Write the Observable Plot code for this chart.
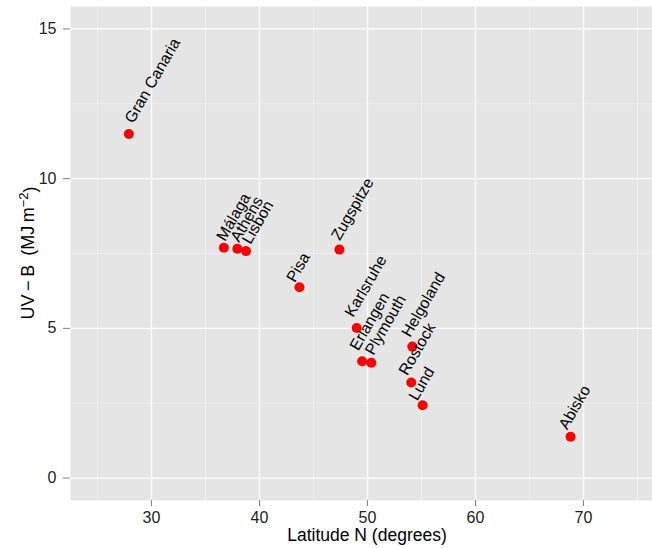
<!DOCTYPE html>
<html>
<head>
<meta charset="utf-8">
<script src="https://cdn.jsdelivr.net/npm/d3@7"></script>
<script src="https://cdn.jsdelivr.net/npm/@observablehq/plot@0.6"></script>
<style>
  html, body { margin: 0; padding: 0; overflow: hidden; background: #fff; }
  #chart svg { max-width: none !important; }
</style>
</head>
<body>
<div id="chart"></div>
<script>
// Annual UV-B dose at European measuring sites against latitude
const sites = ["Gran Canaria", "Málaga", "Athens", "Lisbon", "Pisa", "Zugspitze",
  "Karlsruhe", "Erlangen", "Plymouth", "Helgoland", "Rostock", "Lund", "Abisko"];
// measured points (slightly jittered so that neighbours stay visible)
const latitude = [27.9, 36.7, 37.95, 38.75, 43.7, 47.4, 49.0, 49.5, 50.35, 54.15, 54.05, 55.1, 68.8];
const uvb = [11.49, 7.69, 7.66, 7.58, 6.37, 7.63, 5.01, 3.9, 3.85, 4.39, 3.19, 2.43, 1.38];
// where each site name is anchored
const labelLat = [28.31, 36.81, 38.10, 39.17, 43.29, 47.44, 48.69, 49.15, 50.56, 53.94, 53.69, 54.61, 68.49];
const labelUvb = [11.55, 7.62, 7.58, 7.52, 6.24, 7.64, 5.08, 3.96, 3.81, 4.41, 3.13, 2.29, 1.32];

const xTicks = [30, 40, 50, 60, 70];
const yTicks = [0, 5, 10, 15];
const xMinor = [25, 35, 45, 55, 65, 75];
const yMinor = [2.5, 7.5, 12.5];

const points = sites.map((name, i) => ({name, lat: latitude[i], uvb: uvb[i]}));
const labels = sites.map((name, i) => ({name, lat: labelLat[i], uvb: labelUvb[i]}));

const font = '"Liberation Sans", Arial, Helvetica, sans-serif';

const plot = Plot.plot({
  width: 664,
  height: 548,
  marginLeft: 70,
  marginRight: 0,
  marginTop: 6,
  marginBottom: 48,
  style: {fontFamily: font, background: "white", overflow: "visible", maxWidth: "none"},
  x: {domain: [22.5, 77.5]},
  y: {domain: [-0.75, 15.75]},
  marks: [
    Plot.frame({fill: "#E5E5E5", stroke: null}),
    Plot.gridX(xMinor, {stroke: "#F2F2F2", strokeOpacity: 1, strokeWidth: 0.7}),
    Plot.gridY(yMinor, {stroke: "#F2F2F2", strokeOpacity: 1, strokeWidth: 0.7}),
    Plot.gridX(xTicks, {stroke: "#FFFFFF", strokeOpacity: 1, strokeWidth: 1.3}),
    Plot.gridY(yTicks, {stroke: "#FFFFFF", strokeOpacity: 1, strokeWidth: 1.3}),
    Plot.axisX(xTicks, {tickSize: 6, tickPadding: 5, fontSize: 16, stroke: "#7F7F7F", fill: "#222", label: null, tickFormat: d => String(d)}),
    Plot.axisY(yTicks, {tickSize: 7, tickPadding: 7, fontSize: 16, stroke: "#7F7F7F", fill: "#222", label: null, tickFormat: d => String(d)}),
    Plot.dot(points, {x: "lat", y: "uvb", r: 5, fill: "#FF0000", stroke: null}),
    Plot.text(labels, {
      x: "lat",
      y: "uvb",
      text: "name",
      rotate: -60,
      textAnchor: "start",
      lineAnchor: "bottom",
      dy: -8,
      fontSize: 15.8,
      fill: "#000"
    })
  ]
});

const svg = d3.select(plot);
const xs = plot.scale("x");

// x axis title, centred on the full panel
svg.append("text")
  .attr("x", xs.apply(50))
  .attr("y", 541)
  .attr("text-anchor", "middle")
  .attr("font-family", font)
  .attr("font-size", 17.5)
  .attr("fill", "#000")
  .text("Latitude N (degrees)");

// y axis title with superscript exponent
const yTitle = svg.append("text")
  .attr("transform", "translate(34,253) rotate(-90)")
  .attr("text-anchor", "middle")
  .attr("font-family", font)
  .attr("font-size", 18)
  .attr("fill", "#000");
yTitle.append("tspan").text("UV\u2009\u2212\u2009B\u2002(MJ\u2009m");
yTitle.append("tspan").attr("dy", "-0.45em").attr("font-size", "0.72em").text("\u22122");
yTitle.append("tspan").attr("dy", "0.45em").text(")");

document.getElementById("chart").appendChild(plot);
</script>
</body>
</html>
